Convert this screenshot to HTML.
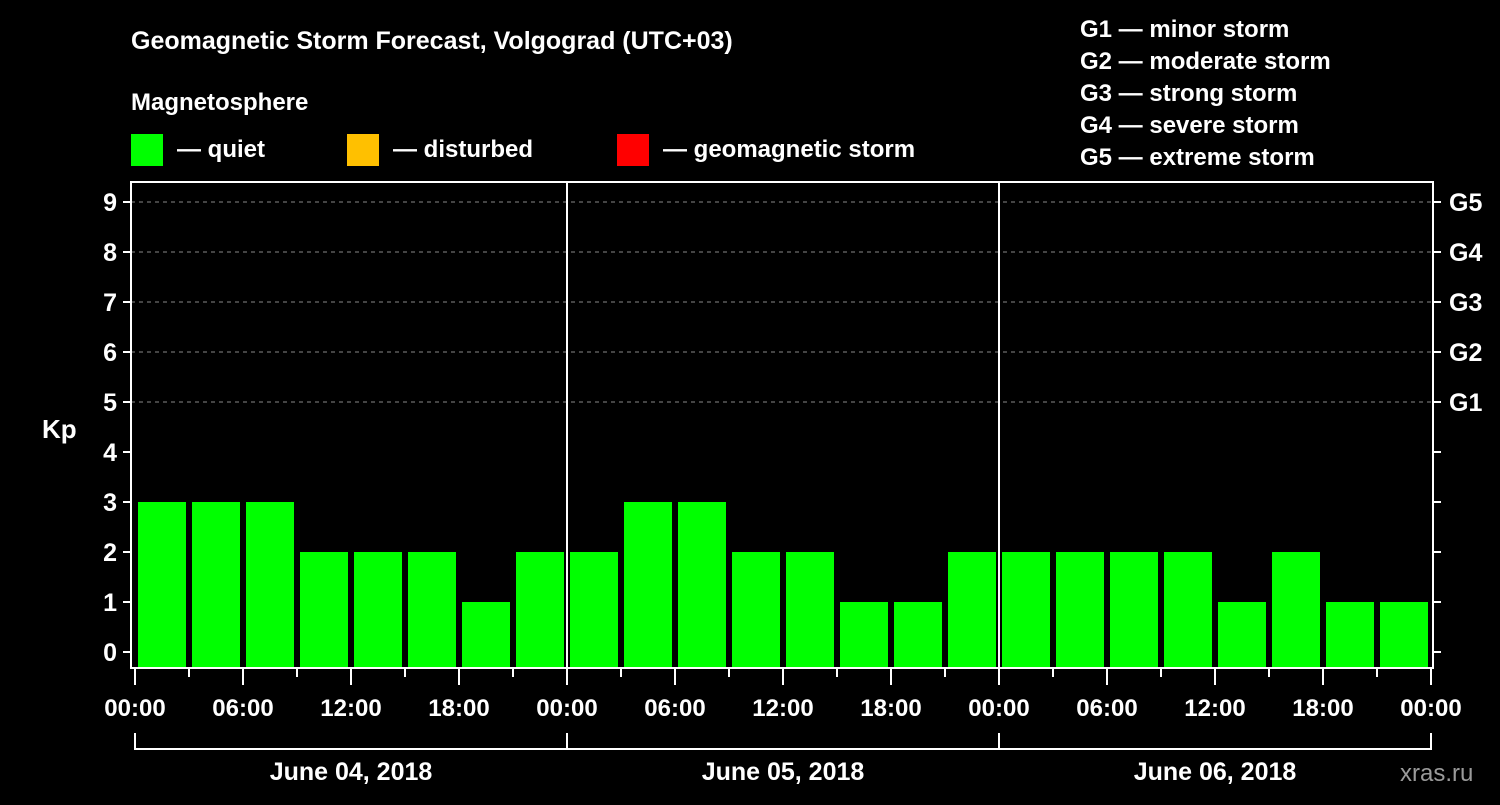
<!DOCTYPE html>
<html><head><meta charset="utf-8"><style>
body{margin:0;background:#000;width:1500px;height:800px;overflow:hidden}
svg text{font-family:"Liberation Sans",Arial,sans-serif;font-weight:bold;fill:#fff}
</style></head><body>
<svg id="c" width="1500" height="800" xmlns="http://www.w3.org/2000/svg">
<text x="131" y="49" font-size="25">Geomagnetic Storm Forecast, Volgograd (UTC+03)</text>
<text x="131" y="110" font-size="24">Magnetosphere</text>
<rect x="131" y="134" width="32" height="32" fill="#00ff00"/>
<text x="177" y="157" font-size="24">— quiet</text>
<rect x="347" y="134" width="32" height="32" fill="#ffc000"/>
<text x="393" y="157" font-size="24">— disturbed</text>
<rect x="617" y="134" width="32" height="32" fill="#ff0000"/>
<text x="663" y="157" font-size="24">— geomagnetic storm</text>
<g font-size="24">
<text x="1080" y="37">G1 — minor storm</text>
<text x="1080" y="69">G2 — moderate storm</text>
<text x="1080" y="101">G3 — strong storm</text>
<text x="1080" y="133">G4 — severe storm</text>
<text x="1080" y="165">G5 — extreme storm</text>
</g>
<text x="42" y="438" font-size="26">Kp</text>
<text x="1400" y="781" font-size="24" fill="#999" style="fill:#9a9a9a;font-weight:normal">xras.ru</text>
<g id="plot"></g>
</svg>
<script>
const kpValues=[3,3,3,2,2,2,1,2, 2,3,3,2,2,1,1,2, 2,2,2,2,1,2,1,1];
const yTicks=[0,1,2,3,4,5,6,7,8,9];
const gLabels=["G1","G2","G3","G4","G5"];
const timeLabels=["00:00","06:00","12:00","18:00","00:00","06:00","12:00","18:00","00:00","06:00","12:00","18:00","00:00"];
const dayLabels=["June 04, 2018","June 05, 2018","June 06, 2018"];
const X0=135,HOUR=18,Y0=652,UNIT=50,TOP=182,BOT=668,LEFT=131,RIGHT=1433;
const xh=h=>X0+h*HOUR, yk=k=>Y0-k*UNIT;
const ns="http://www.w3.org/2000/svg",P=document.getElementById('plot');
function mk(t,a){const e=document.createElementNS(ns,t);for(const k in a)e.setAttribute(k,a[k]);P.appendChild(e);return e;}
yTicks.forEach(k=>{if(k>=5){const g=mk('line',{x1:LEFT,x2:RIGHT,y1:yk(k),y2:yk(k),stroke:'#888','stroke-dasharray':'4,4','stroke-width':1});

}});
kpValues.forEach((v,i)=>{const b=mk('rect',{x:xh(i*3)+3,y:yk(v),width:48,height:BOT-yk(v),fill:'#00ff00'});

});
[24,48].forEach(h=>{const l=mk('line',{x1:xh(h),x2:xh(h),y1:TOP,y2:BOT,stroke:'#fff','stroke-width':2});

});
const fr=mk('rect',{x:LEFT,y:TOP,width:RIGHT-LEFT,height:BOT-TOP,fill:'none',stroke:'#fff','stroke-width':2});


yTicks.forEach(k=>{mk('line',{x1:LEFT-8,x2:LEFT,y1:yk(k),y2:yk(k),stroke:'#fff','stroke-width':2});
mk('line',{x1:RIGHT,x2:RIGHT+8,y1:yk(k),y2:yk(k),stroke:'#fff','stroke-width':2});
const t=mk('text',{x:LEFT-14,y:yk(k)+9,'font-size':25,'text-anchor':'end'});t.textContent=k;

});
gLabels.forEach((g,i)=>{const t=mk('text',{x:RIGHT+16,y:yk(5+i)+9,'font-size':25});t.textContent=g;

});
for(let h=0;h<=72;h+=3){mk('line',{x1:xh(h),x2:xh(h),y1:BOT,y2:h%6?677:685,stroke:'#fff','stroke-width':2});}
timeLabels.forEach((s,i)=>{const t=mk('text',{x:xh(i*6),y:716,'font-size':24,'text-anchor':'middle'});t.textContent=s;

});
dayLabels.forEach((s,i)=>{mk('path',{d:`M${xh(i*24)} 733V749H${xh(i*24+24)}`+(i==2?'V733':''),stroke:'#fff','stroke-width':2,fill:'none'});
const t=mk('text',{x:xh(i*24+12),y:780,'font-size':25,'text-anchor':'middle'});t.textContent=s;

});
</script>
</body></html>
